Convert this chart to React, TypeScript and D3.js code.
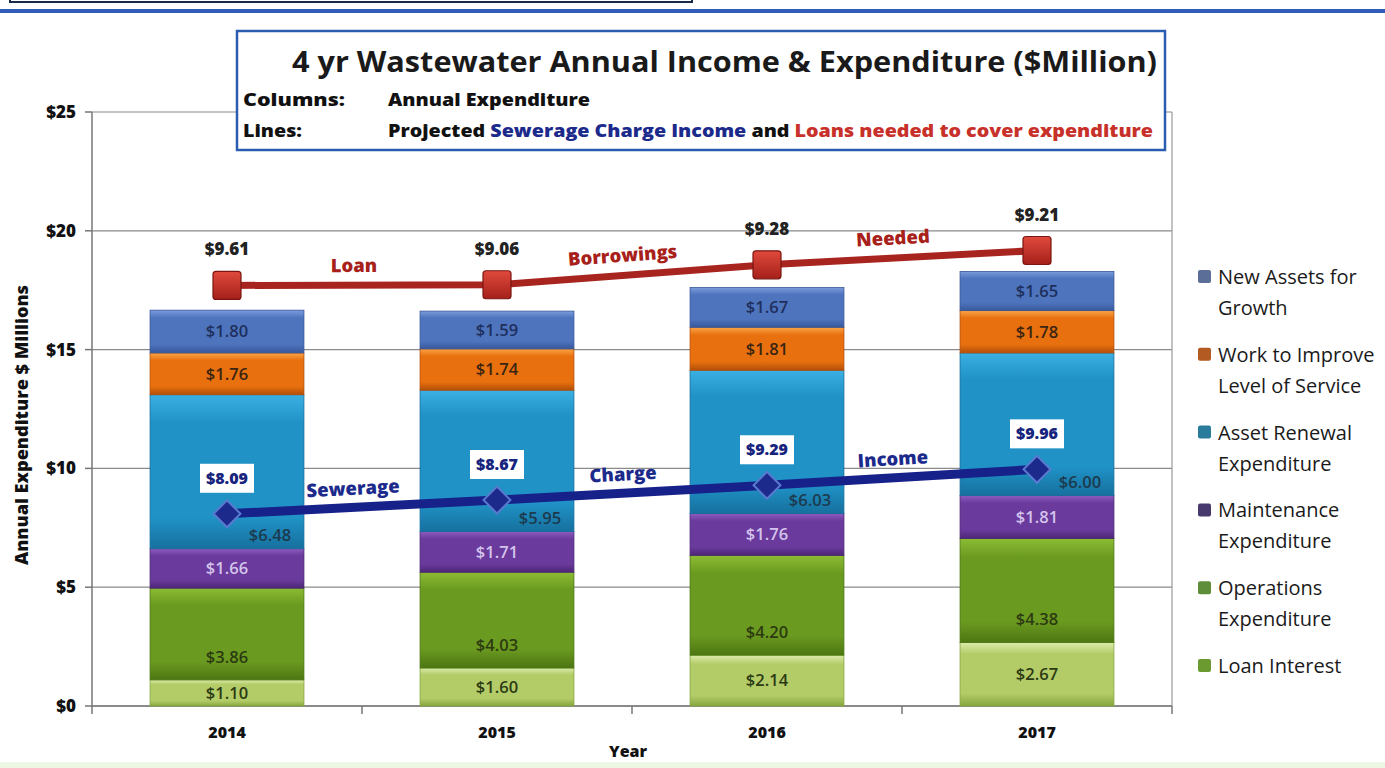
import React from 'react';
import * as d3 from 'd3';

const years = ['2014', '2015', '2016', '2017'];
const loanInterest = [1.10, 1.60, 2.14, 2.67];
const operations = [3.86, 4.03, 4.20, 4.38];
const maintenance = [1.66, 1.71, 1.76, 1.81];
const assetRenewal = [6.48, 5.95, 6.03, 6.00];
const workImprove = [1.76, 1.74, 1.81, 1.78];
const newAssets = [1.80, 1.59, 1.67, 1.65];
const sewerageIncome = [8.09, 8.67, 9.29, 9.96];
const loansNeeded = [9.61, 9.06, 9.28, 9.21];
const yTicks = [0, 5, 10, 15, 20, 25];
const incomeWords = ['Sewerage', 'Charge', 'Income'];
const loanWords = ['Loan', 'Borrowings', 'Needed'];
const seriesKeys = ['loan', 'ops', 'maint', 'renew', 'work', 'growth'];
const legendLines = [
  ['New Assets for', 'Growth'],
  ['Work to Improve', 'Level of Service'],
  ['Asset Renewal', 'Expenditure'],
  ['Maintenance', 'Expenditure'],
  ['Operations', 'Expenditure'],
  ['Loan Interest'],
];
const legendKeys = ['growth', 'work', 'renew', 'maint', 'ops', 'loan'];

const grad: Record<string, [string, string, string]> = {
  loan: ['#dcebab', '#b3cc68', '#86a63e'],
  ops: ['#8cbc34', '#6b9a20', '#4c7612'],
  maint: ['#8e5cc0', '#6a3a9c', '#4c2676'],
  renew: ['#3cb0e2', '#2092c6', '#16709e'],
  work: ['#fba548', '#e8700e', '#b34f08'],
  growth: ['#7c9cdc', '#4e74be', '#37579a'],
};
const legendColor: Record<string, string> = {
  growth: '#5a6e98', work: '#b35a22', renew: '#2a7c9c', maint: '#483a6c', ops: '#5f8e3a', loan: '#6a9a30',
};
const labelColor: Record<string, string> = {
  loan: '#2c3a14', ops: '#2c3a12', maint: '#d4c4ec', renew: '#1c3a4e', work: '#3a2412', growth: '#1e2f5c',
};

const FONT = '"Open Sans", Lato, sans-serif';

export default function App() {
  const W = 1385, H = 768;
  const x = d3.scaleBand<string>().domain(years).range([92, 1172]).paddingInner(0.43).paddingOuter(0.215);
  const y = d3.scaleLinear().domain([0, 25]).range([706, 112]);
  const rows = years.map((yr, i) => ({
    year: yr,
    loan: loanInterest[i], ops: operations[i], maint: maintenance[i],
    renew: assetRenewal[i], work: workImprove[i], growth: newAssets[i],
  }));
  const stack = d3.stack<any>().keys(seriesKeys)(rows);
  const cx = (i: number) => (x(years[i]) as number) + x.bandwidth() / 2;
  const bw = x.bandwidth();
  const step = x.step();
  const loanTotals = loansNeeded.map((v, i) => v + sewerageIncome[i]);
  const pathOf = d3.line<number>().x((_, i) => cx(i)).y(d => y(d));

  const annot = (vals: number[], words: string[], color: string, lift: number) =>
    words.map((w, i) => {
      const x0 = cx(i), x1 = cx(i + 1), y0 = y(vals[i]), y1 = y(vals[i + 1]);
      const mx = (x0 + x1) / 2 - 8, my = (y0 + y1) / 2;
      const ang = (Math.atan2(y1 - y0, x1 - x0) * 180) / Math.PI;
      return (
        <text key={w} transform={`translate(${mx},${my}) rotate(${ang})`} y={-lift} textAnchor="middle"
          fontFamily={FONT} fontWeight={800} fontSize={18.5} fill={color}>{w}</text>
      );
    });

  return (
    <svg width={W} height={H} style={{ position: 'absolute', left: 0, top: 0, background: '#fff' }}>
      <defs>
        {seriesKeys.map(k => (
          <linearGradient key={k} id={`g-${k}`} x1="0" y1="0" x2="0" y2="1">
            <stop offset="0" stopColor={grad[k][0]} />
            <stop offset="0.18" stopColor={grad[k][1]} />
            <stop offset="0.8" stopColor={grad[k][1]} />
            <stop offset="1" stopColor={grad[k][2]} />
          </linearGradient>
        ))}
        <linearGradient id="g-sq" x1="0" y1="0" x2="0" y2="1">
          <stop offset="0" stopColor="#e04a3c" />
          <stop offset="1" stopColor="#a5201a" />
        </linearGradient>
      </defs>

      {/* page decorations */}
      <path d="M10,0 V2 H692 V0" fill="none" stroke="#1a2a4a" strokeWidth={2} />
      <rect x={0} y={9} width={W} height={4} fill="#2f5db8" />
      <rect x={0} y={762} width={W} height={6} fill="#eef6e4" />

      {/* gridlines and axes */}
      {yTicks.map(t => (
        <line key={t} x1={92} x2={1172} y1={y(t)} y2={y(t)} stroke="#8a8a8a" strokeWidth={1.2} />
      ))}
      <line x1={1172} x2={1172} y1={112} y2={706} stroke="#9a9a9a" strokeWidth={1.2} />
      <line x1={92} x2={92} y1={112} y2={706} stroke="#777" strokeWidth={1.5} />
      {yTicks.map(t => (
        <line key={'t' + t} x1={85} x2={92} y1={y(t)} y2={y(t)} stroke="#777" strokeWidth={1.5} />
      ))}
      {yTicks.map(t => (
        <text key={'l' + t} x={76} y={y(t)} dy="0.35em" textAnchor="end" fontFamily={FONT} fontWeight={800}
          fontSize={17} fill="#111">{`$${t}`}</text>
      ))}
      <line x1={92} x2={1172} y1={706} y2={706} stroke="#777" strokeWidth={1.5} />
      {d3.range(years.length + 1).map(i => (
        <line key={'xt' + i} x1={92 + step * i} x2={92 + step * i} y1={706} y2={714} stroke="#777" strokeWidth={1.5} />
      ))}
      {years.map((yr, i) => (
        <text key={yr} x={cx(i)} y={738} textAnchor="middle" fontFamily={FONT} fontWeight={800} fontSize={16}
          fill="#111">{yr}</text>
      ))}
      <text x={628} y={757} textAnchor="middle" fontFamily={FONT} fontWeight={800} fontSize={16} fill="#111">Year</text>
      <text transform="translate(28,425) rotate(-90)" textAnchor="middle" fontFamily={FONT} fontWeight={800}
        fontSize={17} fill="#111" textLength={280} lengthAdjust="spacingAndGlyphs">Annual Expenditure $ Millions</text>

      {/* bars */}
      {stack.map(s => (
        <g key={s.key}>
          {s.map((d, i) => (
            <rect key={i} x={x(years[i])} y={y(d[1])} width={bw} height={y(d[0]) - y(d[1])}
              fill={`url(#g-${s.key})`} stroke={grad[s.key][2]} strokeWidth={0.8} />
          ))}
        </g>
      ))}
      {stack.map(s => (
        <g key={'lab' + s.key}>
          {s.map((d, i) => {
            let tx = cx(i), ty = (y(d[0]) + y(d[1])) / 2;
            if (s.key === 'ops') ty = y(d[0]) - 23;
            if (s.key === 'renew') { ty = y(d[0]) - 13; tx = cx(i) + 43; }
            return (
              <text key={i} x={tx} y={ty} dy="0.35em" textAnchor="middle" fontFamily={FONT} fontWeight={600}
                fontSize={16.5} fill={labelColor[s.key]}>{`$${(d[1] - d[0]).toFixed(2)}`}</text>
            );
          })}
        </g>
      ))}

      {/* loan line */}
      <path d={pathOf(loanTotals) as string} fill="none" stroke="#a8241e" strokeWidth={7} />
      {loanTotals.map((v, i) => (
        <rect key={'sq' + i} x={cx(i) - 14} y={y(v) - 14} width={28} height={28} rx={3}
          fill="url(#g-sq)" stroke="#7a1612" strokeWidth={1.2} />
      ))}
      {loanTotals.map((v, i) => (
        <text key={'ll' + i} x={cx(i)} y={y(v) - 30} textAnchor="middle" fontFamily={FONT} fontWeight={800}
          fontSize={17} fill="#222">{`$${loansNeeded[i].toFixed(2)}`}</text>
      ))}
      {annot(loanTotals, loanWords, '#a8201a', 13)}

      {/* income line */}
      <path d={pathOf(sewerageIncome) as string} fill="none" stroke="#16218a" strokeWidth={9} />
      {sewerageIncome.map((v, i) => (
        <rect key={'dm' + i} x={-9.5} y={-9.5} width={19} height={19}
          transform={`translate(${cx(i)},${y(v)}) rotate(45)`} fill="#1c2a8c" stroke="#5a7ad0" strokeWidth={2} />
      ))}
      {sewerageIncome.map((v, i) => (
        <g key={'il' + i}>
          <rect x={cx(i) - 27} y={y(v) - 50} width={54} height={29} fill="#fff" />
          <text x={cx(i)} y={y(v) - 35.5} dy="0.35em" textAnchor="middle" fontFamily={FONT} fontWeight={800}
            fontSize={16} fill="#17247e">{`$${v.toFixed(2)}`}</text>
        </g>
      ))}
      {annot(sewerageIncome, incomeWords, '#1c2a8c', 12)}

      {/* title box */}
      <rect x={237} y={31} width={928} height={119} fill="#fff" stroke="#2a5cb0" strokeWidth={2.5} />
      <text x={292} y={72} fontFamily={FONT} fontWeight={700} fontSize={28} fill="#1a1a1a"
        textLength={865} lengthAdjust="spacingAndGlyphs">
        4 yr Wastewater Annual Income &amp; Expenditure ($Million)
      </text>
      <text x={243} y={106} fontFamily={FONT} fontWeight={800} fontSize={18} fill="#111"
        textLength={102} lengthAdjust="spacingAndGlyphs">Columns:</text>
      <text x={388} y={106} fontFamily={FONT} fontWeight={800} fontSize={18} fill="#111"
        textLength={202} lengthAdjust="spacingAndGlyphs">Annual Expenditure</text>
      <text x={243} y={137} fontFamily={FONT} fontWeight={800} fontSize={18} fill="#111"
        textLength={59} lengthAdjust="spacingAndGlyphs">Lines:</text>
      <text x={388} y={137} fontFamily={FONT} fontWeight={800} fontSize={18} fill="#111"
        textLength={765} lengthAdjust="spacingAndGlyphs">
        <tspan>Projected </tspan>
        <tspan fill="#1c2a8c">Sewerage Charge Income</tspan>
        <tspan> and </tspan>
        <tspan fill="#c8302a">Loans needed to cover expenditure</tspan>
      </text>

      {/* legend */}
      {legendKeys.map((k, i) => {
        const ly = 277 + i * 77.8;
        return (
          <g key={k}>
            <rect x={1198} y={ly - 7} width={13} height={13} rx={2} fill={legendColor[k]} />
            {legendLines[i].map((ln, j) => (
              <text key={j} x={1218} y={ly + j * 31} dy="0.35em" fontFamily={FONT} fontSize={20} fill="#1a1a1a">{ln}</text>
            ))}
          </g>
        );
      })}
    </svg>
  );
}
